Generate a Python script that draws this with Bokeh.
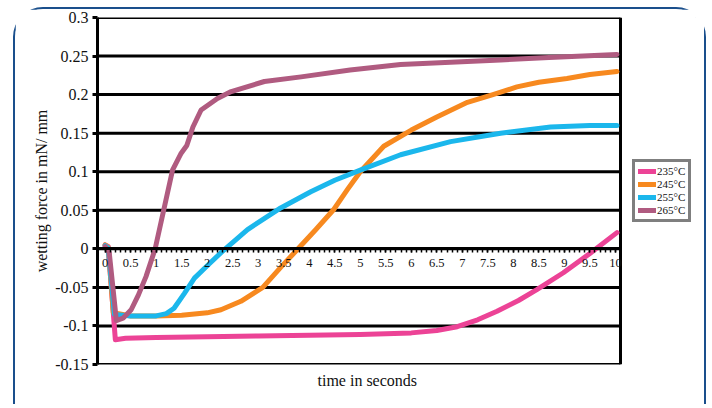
from bokeh.plotting import figure
from bokeh.models import FixedTicker, Legend, LegendItem, Title, Range1d
from bokeh.embed import file_html
from bokeh.resources import INLINE

# ---- data ----
series_names = ["235°C", "245°C", "255°C", "265°C"]
series_colors = ["#ec4396", "#f7891f", "#1bb7ec", "#b05b80"]

t235 = [0, 0.06, 0.2, 0.4, 1, 2, 3, 4, 5, 6, 6.5, 6.9, 7.3, 7.68, 8.1, 8.46, 8.98, 9.5, 10.03]
v235 = [0.005, 0.003, -0.118, -0.116, -0.115, -0.114, -0.113, -0.112, -0.111, -0.109, -0.106,
        -0.101, -0.092, -0.081, -0.067, -0.053, -0.031, -0.006, 0.021]

t245 = [0, 0.06, 0.16, 0.5, 1.0, 1.5, 2.0, 2.27, 2.66, 3.09, 3.44, 3.78, 4.13, 4.48, 4.75, 5.0,
        5.46, 6.0, 6.5, 7.1, 7.6, 8.07, 8.5, 9.05, 9.5, 10.03]
v245 = [0.005, 0.002, -0.083, -0.087, -0.087, -0.086, -0.083, -0.079, -0.068, -0.05, -0.024, 0.0,
        0.025, 0.051, 0.077, 0.1, 0.133, 0.154, 0.171, 0.19, 0.2, 0.21, 0.216, 0.221, 0.226, 0.23]

t255 = [0, 0.06, 0.18, 0.5, 1.0, 1.2, 1.35, 1.55, 1.75, 2.0, 2.27, 2.79, 3.44, 4.03, 4.5, 5.0,
        5.79, 6.77, 7.75, 8.73, 9.5, 10.03]
v255 = [0.004, 0.001, -0.085, -0.087, -0.087, -0.084, -0.077, -0.058, -0.038, -0.022, -0.005, 0.025,
        0.053, 0.074, 0.089, 0.102, 0.122, 0.139, 0.15, 0.158, 0.16, 0.16]

t265 = [0, 0.08, 0.22, 0.35, 0.51, 0.65, 0.8, 0.98, 1.16, 1.32, 1.49, 1.6, 1.72, 1.88, 2.2, 2.47,
        3.12, 3.84, 4.8, 5.79, 6.77, 7.75, 8.7, 10.03]
v265 = [0.003, -0.005, -0.093, -0.09, -0.079, -0.06, -0.036, 0.0, 0.054, 0.102, 0.124, 0.134, 0.158,
        0.18, 0.195, 0.204, 0.217, 0.223, 0.232, 0.239, 0.242, 0.245, 0.248, 0.252]

x_ticks = [0, 0.5, 1, 1.5, 2, 2.5, 3, 3.5, 4, 4.5, 5, 5.5, 6, 6.5, 7, 7.5, 8, 8.5, 9, 9.5, 10]
x_tick_labels = ["0", "0.5", "1", "1.5", "2", "2.5", "3", "3.5", "4", "4.5", "5", "5.5", "6",
                 "6.5", "7", "7.5", "8", "8.5", "9", "9.5", "10"]
x_minor = [i / 10 for i in range(0, 101)]
y_ticks = [-0.15, -0.1, -0.05, 0, 0.05, 0.1, 0.15, 0.2, 0.25, 0.3]
y_tick_labels = ["-0.15", "-0.1", "-0.05", "0", "0.05", "0.1", "0.15", "0.2", "0.25", "0.3"]

# extent of the plotting box (data units)
x_lo, x_hi = -0.15, 10.1
y_lo, y_hi = -0.15, 0.3

x_label = "time in seconds"
y_label = "wetting force in mN/ mm"

FONT = "Liberation Serif"

FRAME_W, BOX_W = 598, 523
x_end = x_lo + (x_hi - x_lo) * FRAME_W / BOX_W   # room on the right for the legend

p = figure(frame_width=FRAME_W, frame_height=347, output_backend="svg", toolbar_location=None,
           x_range=Range1d(x_lo, x_end), y_range=Range1d(y_lo, y_hi),
           min_border_left=82, min_border_right=9, min_border_top=8, min_border_bottom=40)
p.margin = (7, 0, 0, 13)
p.styles = {"border": "2px solid #1a4f8c", "border-bottom": "none",
            "border-radius": "30px 30px 0 0"}
p.background_fill_color = "white"
p.border_fill_color = "white"
p.outline_line_color = None

# y axis
p.yaxis.ticker = FixedTicker(ticks=y_ticks)
p.yaxis.major_label_overrides = {t: l for t, l in zip(y_ticks, y_tick_labels)}
p.yaxis.axis_line_color = "black"
p.yaxis.axis_line_width = 3
p.yaxis.major_tick_out = 5
p.yaxis.major_tick_in = 0
p.yaxis.major_tick_line_width = 3
p.yaxis.minor_tick_line_color = None
p.yaxis.major_label_text_font = FONT
p.yaxis.major_label_text_font_size = "16px"
p.yaxis.major_label_text_color = "#111111"
p.yaxis.major_label_standoff = 4
p.yaxis.axis_label = y_label
p.yaxis.axis_label_text_font = FONT
p.yaxis.axis_label_text_font_size = "16px"
p.yaxis.axis_label_text_font_style = "normal"
p.yaxis.axis_label_text_color = "#111111"
p.yaxis.axis_label_standoff = 2

# x axis sits on y = 0
xa = p.xaxis[0]
xa.fixed_location = 0
xa.bounds = (x_lo, x_hi)
xa.ticker = FixedTicker(ticks=x_ticks, minor_ticks=x_minor)
xa.major_label_overrides = {t: l for t, l in zip(x_ticks, x_tick_labels)}
xa.axis_line_color = "black"
xa.axis_line_width = 3
xa.major_tick_out = 4
xa.major_tick_in = 0
xa.major_tick_line_width = 1.5
xa.minor_tick_out = 4
xa.minor_tick_in = 0
xa.minor_tick_line_width = 1.5
xa.major_label_text_font = FONT
xa.major_label_text_font_size = "12.5px"
xa.major_label_text_color = "#111111"
xa.major_label_standoff = 6

p.add_layout(Title(text=x_label, align="left", offset=220, text_font=FONT, text_font_size="16px",
                   text_font_style="normal", text_color="#111111"), "below")

p.grid.grid_line_color = None

# horizontal grid lines and right edge of the plotting box
n = len(y_ticks)
p.segment(x0=[x_lo] * n, y0=y_ticks, x1=[x_hi] * n, y1=y_ticks, line_color="black", line_width=3)
p.segment(x0=[x_hi], y0=[y_lo], x1=[x_hi], y1=[y_hi], line_color="black", line_width=3)

ts = [t235, t245, t255, t265]
vs = [v235, v245, v255, v265]
items = []
for name, color, t, v in zip(series_names, series_colors, ts, vs):
    r = p.line(t, v, line_color=color, line_width=5, line_join="round", line_cap="round")
    items.append(LegendItem(label=name, renderers=[r]))

legend = Legend(items=items, location=(535, 142), label_text_font=FONT,
                label_text_font_size="11px", label_text_color="#111111",
                glyph_width=18, glyph_height=12, label_height=12, label_standoff=1,
                padding=3, spacing=1, margin=0, border_line_color="black",
                border_line_width=3, background_fill_color="white", background_fill_alpha=1)
p.add_layout(legend, "center")

open("out.html", "w").write(file_html(p, INLINE))
